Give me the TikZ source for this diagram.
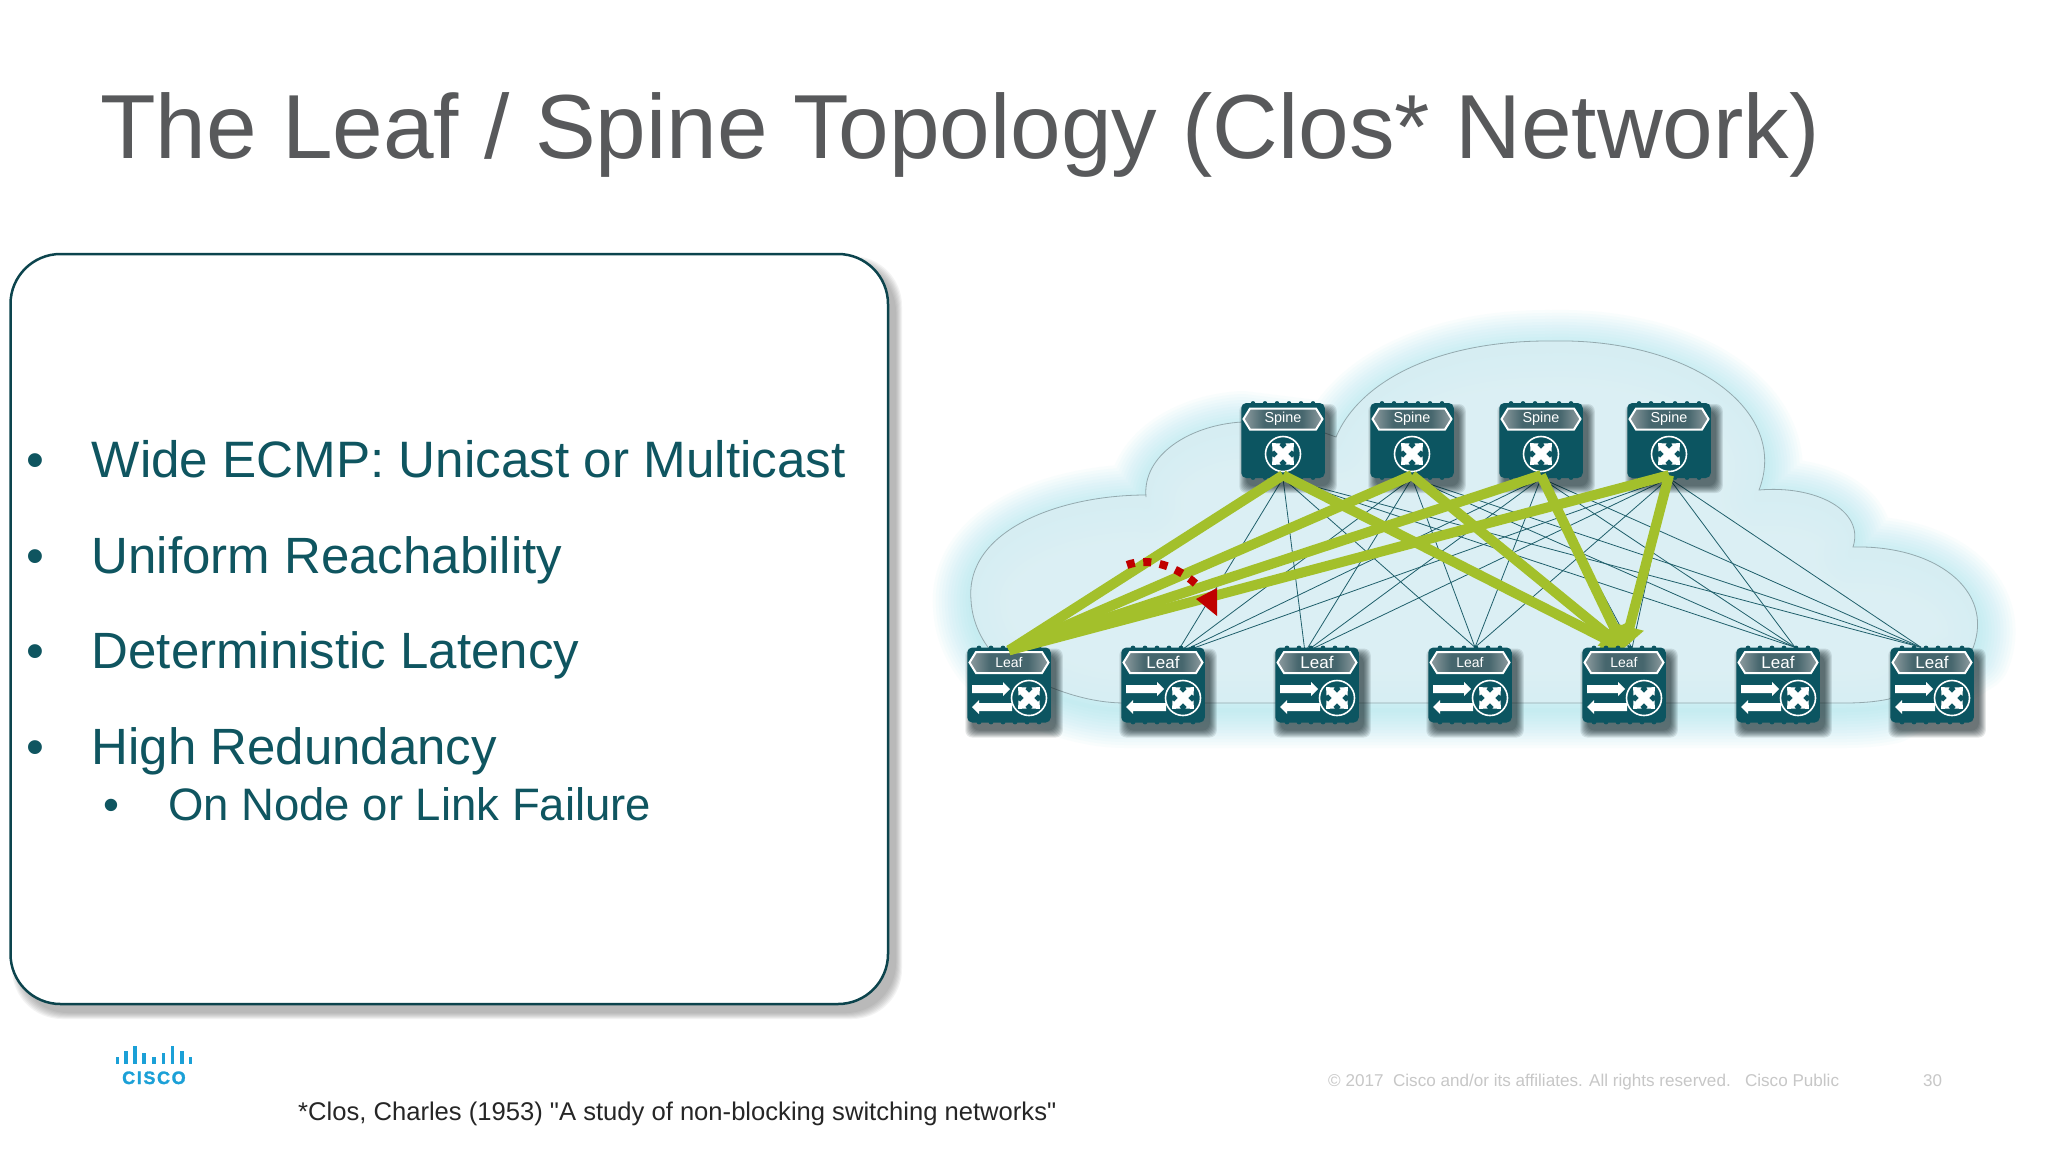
\documentclass[tikz,border=0pt]{standalone}
\usepackage{fontspec}
\setmainfont{Liberation Sans}
\newfontfamily\logofont[LetterSpace=9,FakeBold=1.5]{Liberation Sans Bold}
\newfontfamily\footfont[Ligatures=TeXOff]{Liberation Sans}
\usetikzlibrary{arrows.meta}
\pgfdeclarelayer{bgl}\pgfdeclarelayer{links}\pgfdeclarelayer{gl}\pgfdeclarelayer{lv}\pgfdeclarelayer{topl}
\pgfsetlayers{bgl,links,main,gl,lv,topl}
\definecolor{titlec}{HTML}{58595B}
\definecolor{teal}{HTML}{0F5560}
\definecolor{devc}{HTML}{0C5561}
\definecolor{greenl}{HTML}{A3C02B}
\definecolor{redl}{HTML}{C00000}
\definecolor{thinl}{HTML}{1F5F6B}
\definecolor{glowc}{HTML}{9FE3EC}
\definecolor{cloudc}{HTML}{D8EEF3}
\definecolor{cloudl}{HTML}{94A9AE}
\definecolor{hlight}{HTML}{8E9CA0}
\definecolor{hdark}{HTML}{46666D}
\definecolor{ciscoc}{HTML}{1BA0D7}
\pgfdeclarehorizontalshading{hdrshade}{100bp}{color(0bp)=(hlight);color(25bp)=(hlight);color(38bp)=(hdark);color(62bp)=(hdark);color(75bp)=(hlight);color(100bp)=(hlight)}
\tikzset{
  devbody/.style={rectangle,fill=devc,rounded corners=5pt,minimum width=83.5pt,minimum height=75pt,inner sep=0pt,draw=none},
  devlabel/.style={text=white,inner sep=0pt},
  thinlink/.style={thinl,line width=.8pt},
  greenlink/.style={greenl,line width=10pt},
  greenhead/.style={greenl,line width=10pt,-{Triangle[width=28pt,length=22pt]}},
  txt/.style={anchor=base west,inner sep=0pt},
  headerbox/.style={draw=white,line width=2pt,shading=hdrshade}
}
\newcommand\devshell[3]{%
  \begin{scope}[shift={(#2,#3)}]
    \foreach \e in {7,6,5,4,3,2,1,0}{
      \fill[black!75!teal,opacity=.1,rounded corners=7pt] (5-41.75-\e,8-37.5-\e) rectangle (5+41.75+\e,8+37.5+\e);
    }
    \foreach \bx in {-30,-18,-6,6,18,30}{
      \fill[devc] (\bx,-37) circle (2.4pt);
      \fill[devc] (\bx,37) circle (2.4pt);
    }
  \end{scope}
  \node[devbody] (#1) at (#2,#3) {};
}
\newcommand\xicon[3]{%
  \draw[white,line width=1.6pt] (#1,#2) circle (#3);
  \foreach \a in {45,135,225,315}{
    \begin{scope}[shift={(#1,#2)},rotate=\a]
      \fill[white] (0,-3.6) -- (9,-3.6) -- (9,-5.8) -- (15.5,0) -- (9,5.8) -- (9,3.6) -- (0,3.6) -- cycle;
    \end{scope}
  }
}
\newcommand\spinedev[3]{%
  \devshell{#1}{#2}{#3}
  \begin{scope}[shift={(#2,#3)}]
    \path[headerbox] (-39.5,-21.5) -- (-33,-32) -- (33,-32) -- (39.5,-21.5) -- (33,-11) -- (-33,-11) -- cycle;
    \node[devlabel,font=\fontsize{14.4}{16}\selectfont] (#1lab) at (0,-21.5) {Spine};
    \xicon{0}{13.5}{17.5pt}
  \end{scope}
}
\newcommand\leafdev[4]{%
  \devshell{#1}{#2}{#3}
  \begin{scope}[shift={(#2,#3)}]
    \path[headerbox] (-39.5,-22.5) -- (-33,-33) -- (33,-33) -- (39.5,-22.5) -- (33,-12) -- (-33,-12) -- cycle;
    \node[devlabel,font=\fontsize{#4}{18}\selectfont] (#1lab) at (0,-22.5) {Leaf};
    \fill[white] (-37,0) -- (-6,0) -- (-6,-3) -- (1,4) -- (-6,11) -- (-6,8) -- (-37,8) -- cycle;
    \fill[white] (-37,22) -- (-30,15) -- (-30,18) -- (3,18) -- (3,26) -- (-30,26) -- (-30,29) -- cycle;
    \xicon{20}{13}{17.5pt}
  \end{scope}
}
\def\cloudpath{(1050,687) .. controls (1075,697) and (1100,703) .. (1125,703) -- (1845,703)
  .. controls (1860,703) and (1875,702) .. (1889,699) -- (1973,648)
  .. controls (1995,590) and (1935,545) .. (1853,547)
  .. controls (1865,510) and (1815,485) .. (1759,490)
  .. controls (1790,410) and (1690,338) .. (1552,341)
  .. controls (1440,340) and (1360,380) .. (1336,437)
  -- (1322,432) -- (1242,422)
  .. controls (1190,425) and (1142,455) .. (1146,497)
  -- (1146,495) .. controls (1060,495) and (965,530) .. (971,600)
  .. controls (972,620) and (980,637) .. (990,650) -- cycle}
\begin{document}
\begin{tikzpicture}[x=1pt,y=-1pt]
\useasboundingbox (0,0) rectangle (2048,1152);

% --- cloud
\begin{pgfonlayer}{bgl}
  \fill[white] (0,0) rectangle (2048,1152);
  \begin{scope}[shift={(0,7)}]
    \foreach \w in {76,70,...,4}{
      \draw[glowc,line width=\w pt,opacity=.06,line join=round] \cloudpath;
    }
  \end{scope}
  \fill[cloudc,opacity=.9] \cloudpath;
  \draw[cloudl,line width=.8pt] \cloudpath;
\end{pgfonlayer}

% --- title
\node[txt,text=titlec,font=\fontsize{91}{100}\selectfont] (title) at (100,158) {The Leaf / Spine Topology (Clos* Network)};

% --- panel
\foreach \e in {6,5,4,3,2,1,0}{
  \fill[black!60,opacity=.08,rounded corners=50pt] (18-\e,262-\e) rectangle (896+\e,1013+\e);
}
\draw[draw=teal!80!black,fill=white,line width=2.5pt,rounded corners=50pt] (10.5,254) rectangle (888,1004);
\foreach \n/\y/\fs/\t in {b1/477/51.2/{Wide ECMP: Unicast or Multicast},b2/573/51/{Uniform Reachability},b3/668/51/{Deterministic Latency},b4/764/51/{High Redundancy}}{
  \node[txt,text=teal,font=\fontsize{51}{60}\selectfont] (\n dot) at (26,\y) {•};
  \node[txt,text=teal,font=\fontsize{\fs}{60}\selectfont] (\n) at (91.5,\y) {\t};
}
\node[txt,text=teal,font=\fontsize{45.5}{54}\selectfont] (b5dot) at (103.5,820) {•};
\node[txt,text=teal,font=\fontsize{45.5}{54}\selectfont] (b5) at (168,820) {On Node or Link Failure};

% --- logo
\foreach \bx/\bh in {117.3/7,126/13,135/18,144/11,154/7,163.3/11,172.7/18,182/13,190.7/7}{
  \draw[ciscoc,line width=3.2pt] (\bx,1064-\bh) -- (\bx,1064);
}
\node[txt,text=ciscoc,font=\fontsize{18}{20}\logofont] (cisco) at (122,1084) {CISCO};

% --- footer
\node[txt,text=black!85,font=\fontsize{25.6}{30}\footfont] (foot) at (298,1120) {*Clos, Charles (1953) "A study of non-blocking switching networks"};
\node[txt,text=black!22,font=\fontsize{17.1}{20}\selectfont] (copy) at (1328,1086) {© 2017\ \ Cisco and/or its affiliates. All rights reserved.\ \ \ Cisco Public};
\node[txt,text=black!22,font=\fontsize{17}{20}\selectfont] (page) at (1923,1086) {30};

% --- devices
\spinedev{s1}{1283}{440.5}
\spinedev{s2}{1412}{440.5}
\spinedev{s3}{1541}{440.5}
\spinedev{s4}{1669}{440.5}
\begin{pgfonlayer}{lv}
  \leafdev{l1}{1009}{685}{14}
  \leafdev{l2}{1163}{685}{17}
  \leafdev{l3}{1317}{685}{17}
  \leafdev{l4}{1470}{685}{14}
  \leafdev{l5}{1624}{685}{14}
  \leafdev{l6}{1778}{685}{17}
  \leafdev{l7}{1932}{685}{17}
\end{pgfonlayer}

% --- thin links
\begin{pgfonlayer}{links}
  \foreach \s in {s1,s2,s3,s4}{
    \foreach \l/\dx/\dy in {l1/0/-3,l2/13/-7,l3/-12/-5,l4/5/0,l5/8/-1,l6/17/0,l7/-11/0}{
      \draw[thinlink] (\s.south) -- ([shift={(\dx pt,\dy pt)}]\l.north);
    }
  }
\end{pgfonlayer}

% --- highlighted paths
\begin{pgfonlayer}{gl}
  \foreach \s in {s1,s2,s3,s4}{
    \draw[greenhead] ([yshift=3pt]\s.south) -- ([shift={(0pt,-1pt)}]l5.north);
  }
\end{pgfonlayer}
\begin{pgfonlayer}{topl}
  \foreach \s in {s1,s2,s3,s4}{
    \draw[greenlink] ([yshift=3pt]\s.south) -- ([yshift=-3pt]l1.north);
  }
  \coordinate (rs) at (1127,565);
  \coordinate (re) at (1200,588);
  \coordinate (rt) at (1217,616);
  \draw[redl,line width=8pt,dash pattern=on 8pt off 8.6pt] (rs) .. controls (1148,557) and (1178,565) .. (re);
  \fill[redl] (rt) -- (1217,588) -- (1196,599) -- cycle;
\end{pgfonlayer}
\end{tikzpicture}
\end{document}
